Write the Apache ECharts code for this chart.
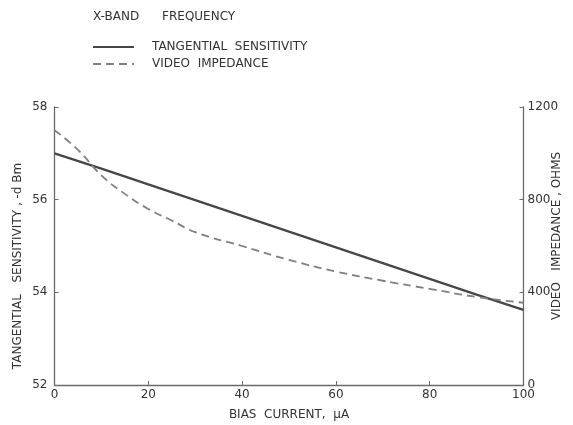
<!DOCTYPE html>
<html>
<head>
<meta charset="utf-8">
<script src="https://cdn.jsdelivr.net/npm/echarts@6/dist/echarts.min.js"></script>
<style>
  html, body { margin: 0; padding: 0; background: #fff; }
  #chart { width: 573px; height: 425px; }
</style>
</head>
<body>
<div id="chart"></div>
<script>
// Bias current (µA) sample points
const biasCurrent = [0, 10, 20, 30, 40, 50, 60, 70, 80, 90, 100];
// Tangential sensitivity, -dBm
const sensitivity = [57.0, 56.67, 56.33, 55.99, 55.65, 55.31, 54.97, 54.63, 54.29, 53.95, 53.62];

// Video impedance (ohms) sampled more finely near zero bias
const impedanceCurrent = [0, 5, 10, 15, 20, 25, 30, 40, 50, 60, 70, 80, 90, 100];
const impedance = [1100, 1015, 905, 825, 760, 710, 660, 600, 540, 490, 450, 415, 380, 355];

const xTicks = [0, 20, 40, 60, 80, 100];
const leftTicks = [52, 54, 56, 58];
const rightTicks = [0, 400, 800, 1200];

const FONT = 'DejaVu Sans';
const INK = '#333';
const AXIS = '#6a6a6a';

const chart = echarts.init(document.getElementById('chart'), null, { renderer: 'canvas' });

const baseAxis = {
  axisLine: { show: true, lineStyle: { color: AXIS, width: 1.3 } },
  axisTick: { show: true, inside: true, length: 4, lineStyle: { color: AXIS, width: 1 } },
  splitLine: { show: false },
  axisLabel: { color: INK, fontFamily: FONT, fontSize: 12, formatter: v => String(v) },
  nameTextStyle: { color: INK, fontFamily: FONT, fontSize: 12 },
  nameMoveOverlap: false
};

chart.setOption({
  backgroundColor: '#fff',
  animation: false,
  title: {
    text: 'X-BAND      FREQUENCY',
    left: 88, top: 6,
    textStyle: { color: INK, fontFamily: FONT, fontSize: 12, fontWeight: 'normal' }
  },
  legend: {
    orient: 'vertical',
    left: 87, top: 36,
    itemWidth: 41, itemHeight: 14, itemGap: 5,
    itemStyle: { opacity: 0 },
    textStyle: { color: INK, fontFamily: FONT, fontSize: 12, padding: [0, 0, 0, 13] },
    data: ['TANGENTIAL  SENSITIVITY', 'VIDEO  IMPEDANCE']
  },
  grid: { left: 54.5, right: 49.5, top: 107, bottom: 40, containLabel: false, outerBoundsMode: 'none' },
  xAxis: Object.assign({}, baseAxis, {
    type: 'value',
    min: xTicks[0], max: xTicks[xTicks.length - 1], interval: 20,
    name: 'BIAS  CURRENT,  μA',
    nameLocation: 'middle', nameGap: 24,
    axisLabel: Object.assign({}, baseAxis.axisLabel, { margin: 4 })
  }),
  yAxis: [
    Object.assign({}, baseAxis, {
      type: 'value', position: 'left',
      min: leftTicks[0], max: leftTicks[leftTicks.length - 1], interval: 2,
      name: 'TANGENTIAL   SENSITIVITY , -d Bm',
      nameLocation: 'middle', nameGap: 31, nameRotate: 90,
      nameTextStyle: Object.assign({}, baseAxis.nameTextStyle, { padding: [0, 40, 0, 0] }),
      axisLabel: Object.assign({}, baseAxis.axisLabel, { margin: 7 })
    }),
    Object.assign({}, baseAxis, {
      type: 'value', position: 'right',
      min: rightTicks[0], max: rightTicks[rightTicks.length - 1], interval: 400,
      name: 'VIDEO   IMPEDANCE , OHMS',
      nameLocation: 'middle', nameGap: 27, nameRotate: 90,
      nameTextStyle: Object.assign({}, baseAxis.nameTextStyle, { padding: [0, 0, 0, 20] }),
      axisLabel: Object.assign({}, baseAxis.axisLabel, { margin: 4 })
    })
  ],
  series: [
    {
      name: 'TANGENTIAL  SENSITIVITY',
      type: 'line',
      yAxisIndex: 0,
      symbol: 'none',
      smooth: false,
      lineStyle: { color: '#474747', width: 2.4 },
      itemStyle: { color: '#474747' },
      data: biasCurrent.map((x, i) => [x, sensitivity[i]])
    },
    {
      name: 'VIDEO  IMPEDANCE',
      type: 'line',
      yAxisIndex: 1,
      symbol: 'none',
      smooth: true,
      lineStyle: { color: '#808080', width: 1.8, type: [8, 5] },
      itemStyle: { color: '#808080' },
      data: impedanceCurrent.map((x, i) => [x, impedance[i]])
    }
  ]
});
</script>
</body>
</html>
